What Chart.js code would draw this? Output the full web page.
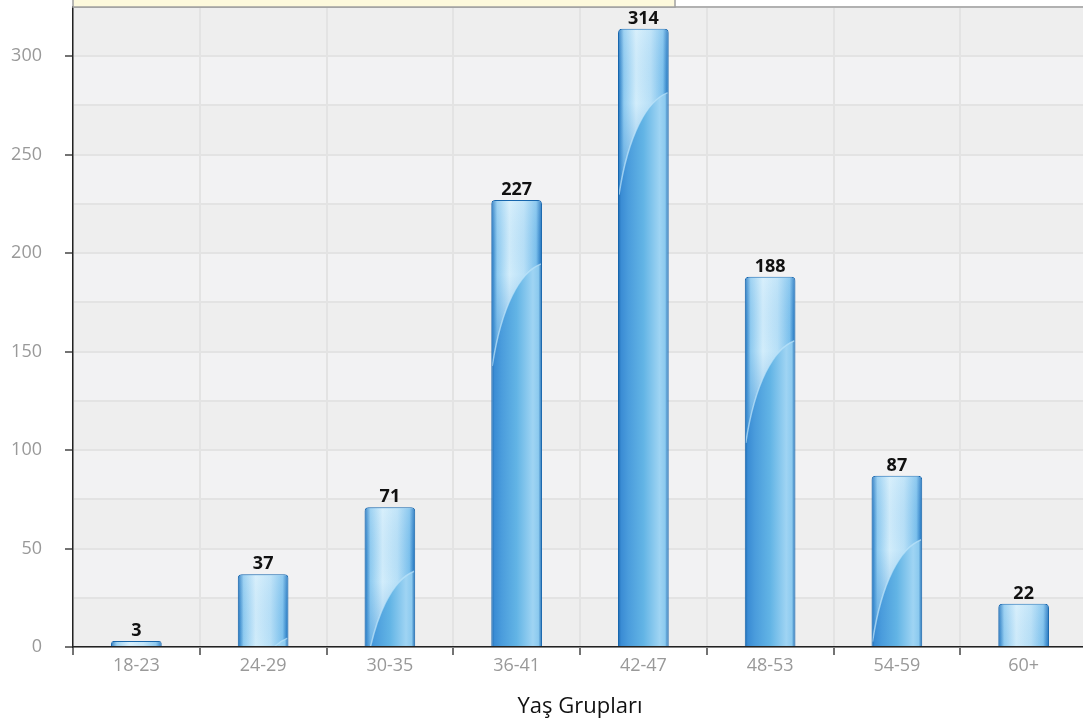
<!DOCTYPE html>
<html>
<head>
<meta charset="utf-8">
<script src="https://cdn.jsdelivr.net/npm/chart.js@4.4.1/dist/chart.umd.min.js"></script>
<style>
  html, body { margin: 0; padding: 0; background: #fff; overflow: hidden; }
  #wrap { width: 1087px; height: 727px; }
</style>
</head>
<body>
<div id="wrap"><canvas id="bar-chart" width="1087" height="727"></canvas></div>
<script>
// Data
const ageGroups = ["18-23", "24-29", "30-35", "36-41", "42-47", "48-53", "54-59", "60+"];
const counts = [3, 37, 71, 227, 314, 188, 87, 22];
const axisTitle = "Yaş Grupları";

const FONT = "'Open Sans', 'Noto Sans', sans-serif";

// shaded bands every 25 units
const bandPlugin = {
    id: "bands",
    beforeDraw(chart) {
        const { ctx, chartArea, scales } = chart;
        const y = scales.y;
        ctx.save();
        for (let v = 0; v < y.max; v += 25) {
            const top = y.getPixelForValue(Math.min(v + 25, y.max));
            const bot = y.getPixelForValue(v);
            ctx.fillStyle = (v / 25) % 2 === 0 ? "#eeeeee" : "#f2f2f3";
            ctx.fillRect(chartArea.left, top, chartArea.right - chartArea.left, bot - top);
        }
        ctx.restore();
    }
};

// glossy upper part of each bar, cut by a curve
const glossPlugin = {
    id: "gloss",
    afterDatasetsDraw(chart) {
        const { ctx } = chart;
        const meta = chart.getDatasetMeta(0);
        ctx.save();
        meta.data.forEach(function (bar) {
            const w = bar.width;
            const left = bar.x - w / 2 + 1;
            const right = bar.x + w / 2 - 1;
            const h = bar.base - bar.y;
            if (h < 4) return;
            const yl = bar.y + 166;   // curve meets left edge
            const yr = bar.y + 64;    // curve meets right edge
            ctx.save();
            ctx.beginPath();
            ctx.roundRect(left, bar.y + 1, right - left, h - 1, [3, 3, 0, 0]);
            ctx.clip();
            const g = ctx.createLinearGradient(left, 0, right, 0);
            g.addColorStop(0, "#2a7dc4");
            g.addColorStop(0.1, "#8fcbf0");
            g.addColorStop(0.35, "#d2edfb");
            g.addColorStop(0.65, "#b8e0f7");
            g.addColorStop(0.9, "#7cc1ed");
            g.addColorStop(1, "#2679c2");
            ctx.beginPath();
            ctx.moveTo(left, bar.y);
            ctx.lineTo(right, bar.y);
            ctx.lineTo(right, yr);
            ctx.bezierCurveTo(left + w * 0.55, yr + 8, left + w * 0.18, yl - 60, left, yl);
            ctx.closePath();
            ctx.fillStyle = g;
            ctx.fill();
            // darken towards the curve
            const v = ctx.createLinearGradient(0, bar.y, 0, yl);
            v.addColorStop(0, "rgba(255,255,255,0.15)");
            v.addColorStop(0.45, "rgba(60,140,210,0)");
            v.addColorStop(1, "rgba(50,135,210,0.55)");
            ctx.fillStyle = v;
            ctx.fill();
            // highlight along the curve
            ctx.beginPath();
            ctx.moveTo(right, yr);
            ctx.bezierCurveTo(left + w * 0.55, yr + 8, left + w * 0.18, yl - 60, left, yl);
            ctx.strokeStyle = "rgba(190,228,250,0.7)";
            ctx.lineWidth = 1.5;
            ctx.stroke();
            ctx.restore();
        });
        ctx.restore();
    }
};

// value labels, tooltip strip and top border
const labelPlugin = {
    id: "valueLabels",
    afterDraw(chart) {
        const { ctx, chartArea } = chart;
        const meta = chart.getDatasetMeta(0);
        ctx.save();
        ctx.font = "bold 18px " + FONT;
        ctx.fillStyle = "#111";
        ctx.textAlign = "center";
        ctx.textBaseline = "alphabetic";
        meta.data.forEach(function (bar, i) {
            ctx.fillText(counts[i], bar.x, bar.y - 5);
        });
        // top border of plot
        ctx.strokeStyle = "#a0a0a0";
        ctx.lineWidth = 1.5;
        ctx.beginPath();
        ctx.moveTo(chartArea.left, chartArea.top);
        ctx.lineTo(chartArea.right, chartArea.top);
        ctx.stroke();
        // cropped tooltip strip
        ctx.fillStyle = "#fdf9dc";
        ctx.fillRect(chartArea.left, -4, 602, chartArea.top + 4);
        ctx.strokeRect(chartArea.left, -4, 602, chartArea.top + 4);
        ctx.restore();
    }
};

function barFill(c) {
    const chart = c.chart;
    const xs = chart.scales.x;
    if (!xs || !chart.chartArea) return "#5aaee3";
    const cx = xs.getPixelForValue(c.dataIndex);
    const half = (xs.width / ageGroups.length) * 0.4 / 2;
    const g = chart.ctx.createLinearGradient(cx - half, 0, cx + half, 0);
    g.addColorStop(0, "#1a68b0");
    g.addColorStop(0.06, "#3a8cd4");
    g.addColorStop(0.2, "#4a9cdc");
    g.addColorStop(0.5, "#62b4e5");
    g.addColorStop(0.82, "#9fd4f3");
    g.addColorStop(0.93, "#8ccaef");
    g.addColorStop(1, "#1a68b0");
    return g;
}

const ctx = document.getElementById("bar-chart").getContext("2d");
const myChart = new Chart(ctx, {
    type: "bar",
    data: {
        labels: ageGroups,
        datasets: [{
            data: counts,
            backgroundColor: barFill,
            borderColor: "#1766ad",
            borderWidth: 1,
            borderSkipped: "bottom",
            borderRadius: { topLeft: 4, topRight: 4 },
            barPercentage: 0.4,
            categoryPercentage: 1
        }]
    },
    options: {
        responsive: false,
        animation: false,
        layout: { padding: { top: 7, left: 0, right: 0, bottom: 0 } },
        plugins: {
            legend: { display: false },
            tooltip: { enabled: false }
        },
        scales: {
            x: {
                grid: {
                    offset: true,
                    color: "#e3e3e3",
                    lineWidth: 2,
                    tickColor: "#444",
                    tickLength: 8,
                    tickWidth: 1.5
                },
                border: { color: "#222", width: 1.5 },
                ticks: {
                    color: "#999",
                    padding: 0,
                    font: { family: FONT, size: 18 }
                },
                title: {
                    display: true,
                    text: axisTitle,
                    color: "#111",
                    font: { family: FONT, size: 22 },
                    padding: { top: 0, bottom: 7 }
                },
                afterFit(scale) {
                    scale.height = 80;
                    scale.paddingLeft = 0;
                    scale.paddingRight = 0;
                }
            },
            y: {
                min: 0,
                max: 325,
                grid: {
                    color: "#e3e3e3",
                    lineWidth: 2,
                    tickLength: 8,
                    tickWidth: 1.5,
                    tickColor: function (c) {
                        return c.tick && c.tick.value % 50 === 0 ? "#444" : "rgba(0,0,0,0)";
                    }
                },
                border: { color: "#222", width: 1.5 },
                ticks: {
                    stepSize: 25,
                    color: "#999",
                    padding: 23,
                    font: { family: FONT, size: 18 },
                    callback: function (v) { return v % 50 === 0 ? v : ""; }
                },
                afterFit(scale) {
                    scale.width = 73;
                    scale.paddingTop = 0;
                    scale.paddingBottom = 0;
                }
            }
        }
    },
    plugins: [bandPlugin, glossPlugin, labelPlugin]
});
</script>
</body>
</html>
